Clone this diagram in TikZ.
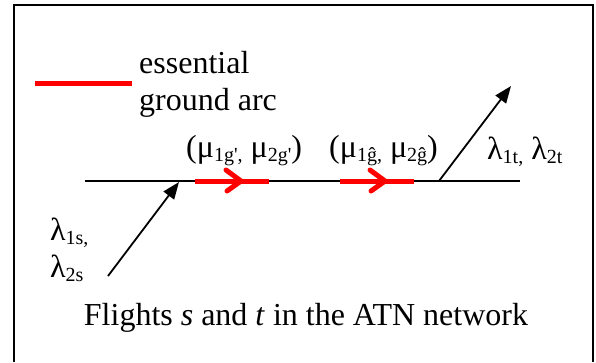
\documentclass[tikz,border=0pt]{standalone}
\usepackage{fontspec}
\setmainfont{Liberation Serif}
\newfontfamily\subfnt{Liberation Serif}
\usetikzlibrary{arrows.meta}
\tikzset{
  lbl/.style={inner sep=0pt, anchor=base west, font=\fontsize{32}{36.8}\selectfont},
  axis/.style={line width=2pt, black},
  ess/.style={line width=5pt, red},
  chev/.style={line width=5pt, red, line cap=round, line join=round},
  flight/.style={line width=1.8pt, black, -{Triangle[length=17pt,width=13pt]}},
  frame/.style={line width=2pt, black}
}
\newcommand{\sbx}[1]{\raisebox{-0.13em}{\subfnt\fontsize{20}{24}\selectfont #1}}
\begin{document}
\begin{tikzpicture}[x=1pt,y=-1pt]
\useasboundingbox (0,0) rectangle (596,362);
% frame (bottom edge is outside the picture)
\coordinate (fbl) at (13.5,362);
\coordinate (ftl) at (13.5,4.5);
\coordinate (ftr) at (592.5,4.5);
\coordinate (fbr) at (592.5,362);
\draw[frame] (fbl) -- (ftl) -- (ftr) -- (fbr);
% legend
\coordinate (lega) at (35,83);
\coordinate (legb) at (132,83);
\draw[ess] (lega) -- (legb);
\node[lbl] (ess1) at (139,73) {essential};
\node[lbl] (ess2) at (139,110) {ground arc};
% main horizontal line
\coordinate (La) at (85,181);
\coordinate (Lb) at (520,181);
\draw[axis] (La) -- (Lb);
% essential ground arcs
\coordinate (g1a) at (195,181);
\coordinate (g1b) at (269,181);
\coordinate (t1) at (241,181);
\draw[ess] (g1a) -- (g1b);
\draw[chev] ([shift={(-15,-11)}]t1) -- (t1) -- ([shift={(-14,10)}]t1);
\coordinate (g2a) at (340,181);
\coordinate (g2b) at (414,181);
\coordinate (t2) at (385,181);
\draw[ess] (g2a) -- (g2b);
\draw[chev] ([shift={(-15,-11)}]t2) -- (t2) -- ([shift={(-14,10)}]t2);
% flights
\coordinate (sa) at (108,276);
\coordinate (sb) at (179,182);
\draw[flight] (sa) -- (sb);
\coordinate (ta) at (439,181);
\coordinate (tb) at (511,86);
\draw[flight] (ta) -- (tb);
% labels
\node[lbl] (mu1) at (186,157) {(μ\sbx{1g',} μ\sbx{2g'})};
\node[lbl] (mu2) at (329,157) {(μ\sbx{1ĝ,} μ\sbx{2ĝ})};
\node[lbl] (lt) at (487,159) {λ\sbx{1t,} λ\sbx{2t}};
\node[lbl] (ls1) at (50,240) {λ\sbx{1s,}};
\node[lbl] (ls2) at (50,277) {λ\sbx{2s}};
\node[lbl, anchor=base] (cap) at (306,325) {Flights \textit{s} and \textit{t} in the ATN network};
\end{tikzpicture}
\end{document}
